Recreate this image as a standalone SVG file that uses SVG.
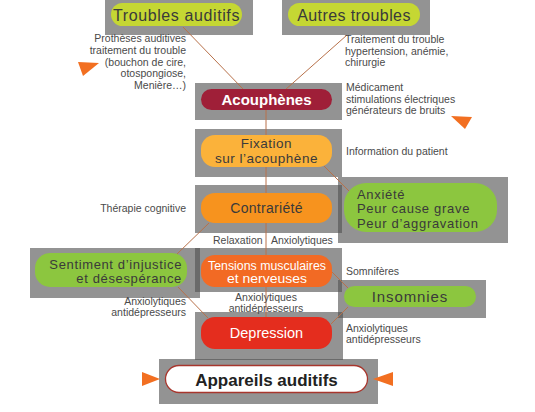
<svg xmlns="http://www.w3.org/2000/svg" width="535" height="412" viewBox="0 0 535 412">
<defs>
<style>
.box{fill:#505050;fill-opacity:0.62}
.ann{font-family:"Liberation Sans",Arial,sans-serif;font-size:10.5px;fill:#4a4a4a}
.lbl{font-family:"Liberation Sans",Arial,sans-serif;font-size:14px;fill:#3a3a3a}
.wl{font-family:"Liberation Sans",Arial,sans-serif;fill:#ffffff}
.con{stroke:#b8714a;stroke-width:1;fill:none}
.tri{fill:#f26f21}
</style>
</defs>
<rect width="535" height="412" fill="#ffffff"/>
<g id="panels">
<rect class="box" x="105" y="0" width="148" height="35"/>
<rect class="box" x="282" y="0" width="148" height="35"/>
<rect class="box" x="195" y="83" width="147" height="37"/>
<rect class="box" x="195" y="129" width="147" height="48"/>
<rect class="box" x="195" y="185" width="147" height="48"/>
<rect class="box" x="338" y="177" width="170" height="66"/>
<rect class="box" x="30" y="248" width="170" height="50"/>
<rect class="box" x="195" y="248" width="147" height="44"/>
<rect class="box" x="338" y="280" width="148" height="38"/>
<rect class="box" x="195" y="312" width="148" height="48"/>
<rect class="box" x="159" y="359" width="219" height="45"/>
</g>
<g id="connectors">
<line class="con" x1="183" y1="27" x2="243" y2="89"/>
<line class="con" x1="347" y1="35" x2="285" y2="90"/>
<line class="con" x1="266" y1="110" x2="266" y2="317"/>
<line class="con" x1="323" y1="165" x2="349" y2="191"/>
<line class="con" x1="209" y1="223" x2="177" y2="254"/>
<line class="con" x1="178" y1="287" x2="208" y2="318"/>
<line class="con" x1="332" y1="272" x2="348" y2="288"/>
<line class="con" x1="331" y1="324" x2="348" y2="307"/>
<polygon class="tri" points="78,62 99,63 83,76"/>
<polygon class="tri" points="451,116 472,117 465,129"/>
<polygon class="tri" points="142,372 142,386 160,379"/>
<polygon class="tri" points="373,379 393,372 393,386"/>
</g>
<g id="troubles-auditifs">
<rect x="111" y="3" width="131" height="23" rx="11.5" fill="#c5d733"/>
<text class="lbl" x="176.5" y="20.5" text-anchor="middle" style="font-size:16px;letter-spacing:0.6px">Troubles auditifs</text>
</g>
<g id="autres-troubles">
<rect x="288" y="3" width="132" height="23" rx="11.5" fill="#c5d733"/>
<text class="lbl" x="354" y="20.5" text-anchor="middle" style="font-size:16px;letter-spacing:0.4px">Autres troubles</text>
</g>
<g id="acouphenes">
<rect x="201" y="89" width="131" height="21" rx="10.5" fill="#9f1f38"/>
<text class="wl" x="266.5" y="105" text-anchor="middle" font-weight="bold" font-size="15">Acouphènes</text>
</g>
<g id="fixation">
<rect x="201" y="135" width="131" height="32" rx="14" fill="#fbb23a"/>
<text class="lbl" x="266.5" y="147.5" text-anchor="middle" style="font-size:13.5px;letter-spacing:0.5px">Fixation</text>
<text class="lbl" x="266.5" y="163" text-anchor="middle" style="font-size:13.5px;letter-spacing:0.5px">sur l’acouphène</text>
</g>
<g id="contrariete">
<rect x="201" y="193" width="131" height="30" rx="14" fill="#f7931e"/>
<text class="lbl" x="266.5" y="213" text-anchor="middle" style="letter-spacing:0.3px">Contrariété</text>
</g>
<g id="anxiete">
<rect x="344" y="183" width="153" height="49" rx="22" fill="#8cc63f"/>
<text class="lbl" x="357" y="198.5" style="font-size:13px;letter-spacing:0.7px">Anxiété</text>
<text class="lbl" x="357" y="213" style="font-size:13px;letter-spacing:0.7px">Peur cause grave</text>
<text class="lbl" x="357" y="227.5" style="font-size:13px;letter-spacing:0.7px">Peur d’aggravation</text>
</g>
<g id="sentiment">
<rect x="35" y="253" width="152" height="34" rx="15" fill="#8cc63f"/>
<text class="lbl" x="182" y="268.5" text-anchor="end" style="font-size:13px;letter-spacing:0.64px">Sentiment d’injustice</text>
<text class="lbl" x="182" y="283" text-anchor="end" style="font-size:13px;letter-spacing:0.64px">et désespérance</text>
</g>
<g id="tensions">
<rect x="201" y="255" width="131" height="32" rx="14" fill="#f26a24"/>
<text class="wl" x="267" y="269.5" text-anchor="middle" font-size="12.5" textLength="118" lengthAdjust="spacingAndGlyphs">Tensions musculaires</text>
<text class="wl" x="267" y="283" text-anchor="middle" font-size="12.5" textLength="80" lengthAdjust="spacingAndGlyphs">et nerveuses</text>
</g>
<g id="insomnies">
<rect x="344" y="286" width="132" height="21" rx="10.5" fill="#8cc63f"/>
<text class="lbl" x="410" y="302" text-anchor="middle" style="font-size:15px;letter-spacing:0.9px">Insomnies</text>
</g>
<g id="depression">
<rect x="201" y="317" width="131" height="32" rx="14" fill="#e42d1e"/>
<text class="wl" x="266.5" y="338" text-anchor="middle" font-size="14.5">Depression</text>
</g>
<g id="appareils">
<rect x="165.5" y="365.5" width="202" height="27" rx="13.5" fill="#ffffff" stroke="#a8362d" stroke-width="1.3"/>
<text x="266.5" y="386" text-anchor="middle" font-family="'Liberation Sans',Arial,sans-serif" font-weight="bold" font-size="17" fill="#222222">Appareils auditifs</text>
</g>
<g id="annotations">
<text class="ann" x="186" y="42" text-anchor="end">Prothèses auditives</text>
<text class="ann" x="186" y="54" text-anchor="end">traitement du trouble</text>
<text class="ann" x="186" y="65.5" text-anchor="end">(bouchon de cire,</text>
<text class="ann" x="186" y="77" text-anchor="end">otospongiose,</text>
<text class="ann" x="186" y="88.5" text-anchor="end">Menière…)</text>
<text class="ann" x="345" y="43">Traitement du trouble</text>
<text class="ann" x="345" y="55">hypertension, anémie,</text>
<text class="ann" x="345" y="66">chirurgie</text>
<text class="ann" x="346" y="91">Médicament</text>
<text class="ann" x="346" y="103">stimulations électriques</text>
<text class="ann" x="346" y="114">générateurs de bruits</text>
<text class="ann" x="346" y="155">Information du patient</text>
<text class="ann" x="186" y="212" text-anchor="end">Thérapie cognitive</text>
<text class="ann" x="213" y="244">Relaxation</text>
<text class="ann" x="271" y="244">Anxiolytiques</text>
<text class="ann" x="346" y="274.5">Somnifères</text>
<text class="ann" x="266" y="300.5" text-anchor="middle">Anxiolytiques</text>
<text class="ann" x="266" y="311.5" text-anchor="middle">antidépresseurs</text>
<text class="ann" x="186" y="305" text-anchor="end">Anxiolytiques</text>
<text class="ann" x="186" y="316" text-anchor="end">antidépresseurs</text>
<text class="ann" x="346" y="332">Anxiolytiques</text>
<text class="ann" x="346" y="343">antidépresseurs</text>
</g>
</svg>
